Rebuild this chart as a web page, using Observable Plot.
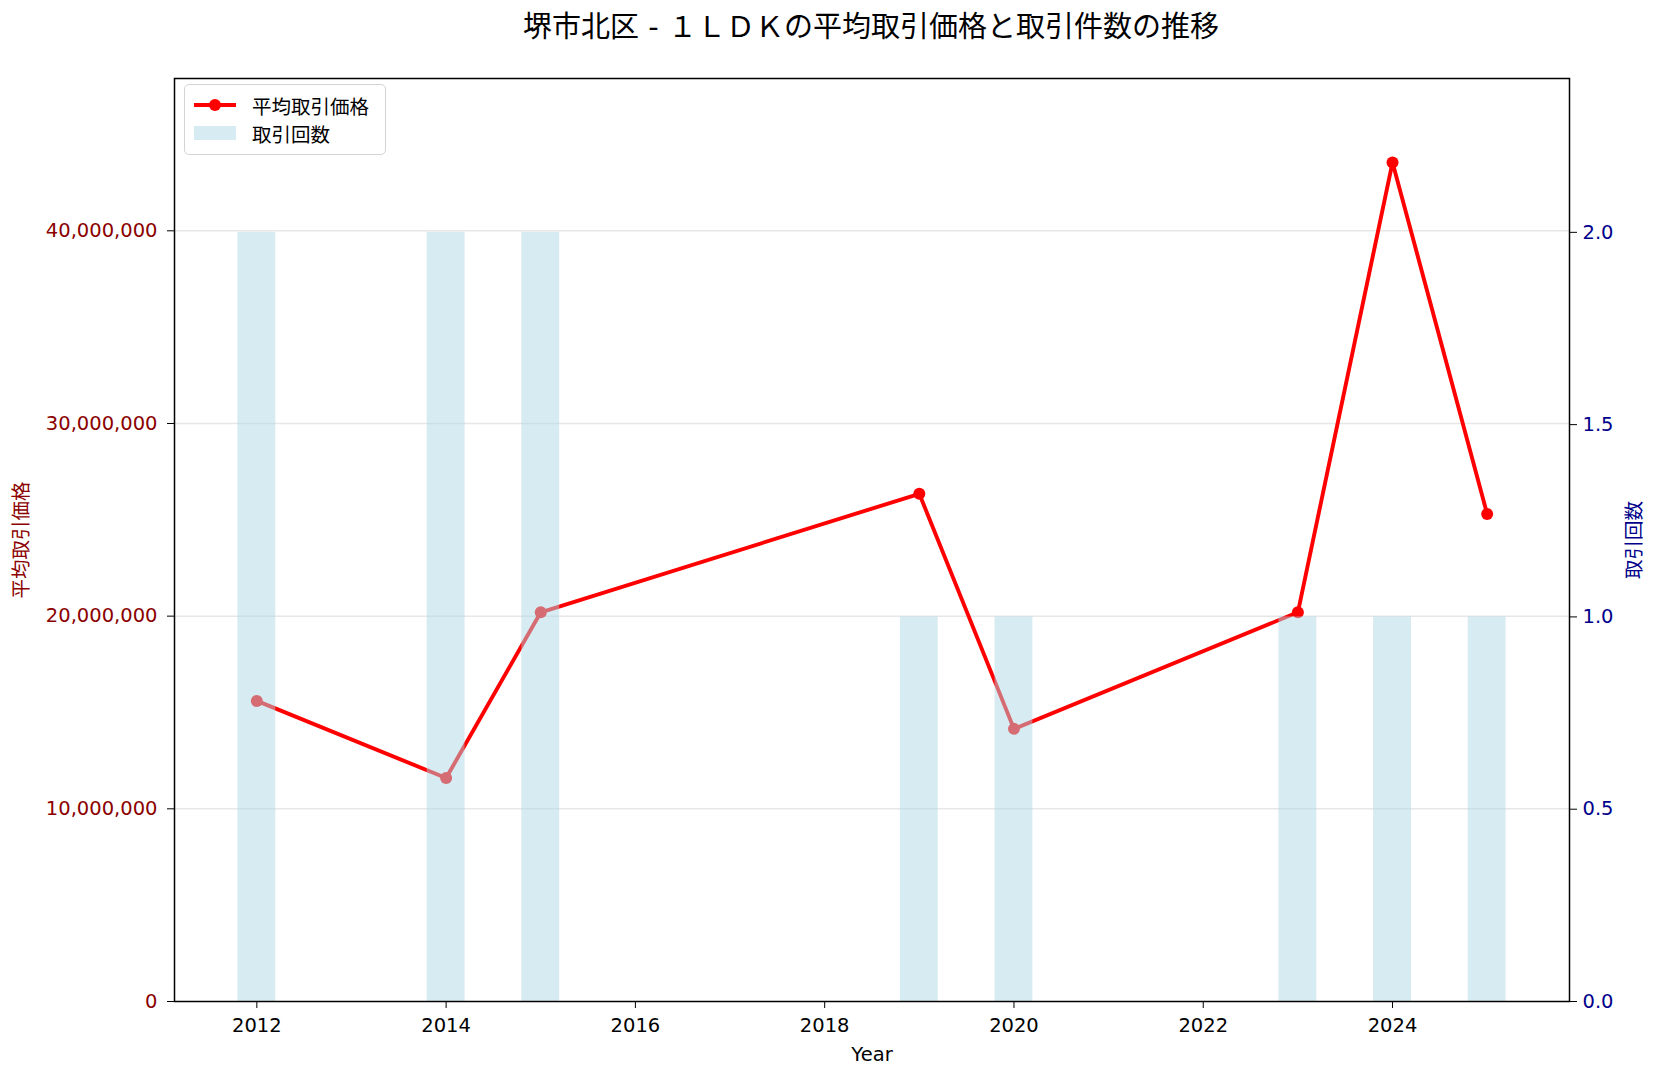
<!DOCTYPE html>
<html>
<head>
<meta charset="utf-8">
<script src="https://cdn.jsdelivr.net/npm/d3@7"></script>
<script src="https://cdn.jsdelivr.net/npm/@observablehq/plot@0.6"></script>
<style>
  html, body { margin: 0; padding: 0; background: #fff; }
  body { width: 1658px; height: 1080px; position: relative; overflow: hidden;
         font-family: "DejaVu Sans", "Noto Sans CJK JP", sans-serif; }
  #title { position: absolute; top: 10px; left: 871px; transform: translateX(-50%);
           font-size: 29px; line-height: 34px; white-space: nowrap; color: #000; }
  #chart { position: absolute; top: 60px; left: 0; }
  #legend { position: absolute; left: 184px; top: 84px; width: 202px; height: 71px;
            border: 1px solid #d4d4d4; border-radius: 5px; background: rgba(255,255,255,0.8);
            font-size: 19.5px; color: #000; box-sizing: border-box; }
  .item { position: absolute; left: 9px; height: 24px; display: flex; align-items: center; }
  .swatch { width: 42px; height: 24px; position: relative; margin-right: 16px; }
  .ln { position: absolute; left: 0; right: 0; top: 10px; height: 4px; background: red; }
  .dt { position: absolute; left: 15px; top: 6px; width: 12px; height: 12px; border-radius: 50%; background: red; }
  .patch { position: absolute; left: 0; right: 0; top: 5px; height: 14px; background: #add8e6; opacity: 0.5; }
</style>
</head>
<body>
<div id="title">堺市北区 - １ＬＤＫの平均取引価格と取引件数の推移</div>
<div id="chart"></div>
<div id="legend">
  <div class="item" style="top:8px"><div class="swatch"><div class="ln"></div><div class="dt"></div></div><span>平均取引価格</span></div>
  <div class="item" style="top:36px"><div class="swatch"><div class="patch"></div></div><span>取引回数</span></div>
</div>
<script>
// ---- data ----
const years  = [2012, 2014, 2015, 2019, 2020, 2023, 2024, 2025];
const prices = [15600000, 11600000, 20200000, 26350000, 14150000, 20200000, 43550000, 25300000];
const counts = [2, 2, 2, 1, 1, 1, 1, 1];
const xTicks = [2012, 2014, 2016, 2018, 2020, 2022, 2024];
const priceTicks = [0, 10000000, 20000000, 30000000, 40000000];
const countTicks = [0, 0.5, 1.0, 1.5, 2.0];
const priceLabel = "平均取引価格";
const countLabel = "取引回数";
const xLabel = "Year";

const data = years.map((y, i) => ({year: y, price: prices[i], count: counts[i]}));

const yTop = d3.max(prices) * 1.1;
const countTop = d3.max(counts) * 1.2;
const unit = yTop / countTop; // maps counts onto the price scale
const barHalf = 0.2;
const xMin = d3.min(years) - barHalf, xMax = d3.max(years) + barHalf;
const pad = (xMax - xMin) * 0.05;

const font = `"DejaVu Sans", "Noto Sans CJK JP", sans-serif`;

const chart = Plot.plot({
  width: 1658,
  height: 1020,
  marginTop: 18,
  marginBottom: 79,
  marginLeft: 174,
  marginRight: 89,
  style: {fontFamily: font, fontSize: "19.5px", background: "white", color: "black"},
  x: {domain: [xMin - pad, xMax + pad]},
  y: {domain: [0, yTop]},
  marks: [
    Plot.gridY(priceTicks.filter(d => d > 0), {stroke: "#b0b0b0", strokeOpacity: 0.3, strokeWidth: 1.5}),
    Plot.line(data, {x: "year", y: "price", stroke: "red", strokeWidth: 3.9}),
    Plot.dot(data, {x: "year", y: "price", fill: "red", r: 6}),
    Plot.rect(data, {x1: d => d.year - barHalf, x2: d => d.year + barHalf, y1: 0, y2: d => d.count * unit,
                     fill: "#add8e6", fillOpacity: 0.5}),
    Plot.frame({stroke: "black", strokeWidth: 1.5}),
    // x axis
    Plot.axisX(xTicks, {tickSize: 7, tickPadding: 10, tickFormat: d => String(d), stroke: "black", fill: "black",
                        label: xLabel, labelAnchor: "center", labelArrow: "none", labelOffset: 59}),
    // left axis ticks & labels
    Plot.axisY(priceTicks, {anchor: "left", tickSize: 7, tickFormat: () => "", stroke: "black", label: null}),
    Plot.axisY(priceTicks, {anchor: "left", tickSize: 0, tickPadding: 17, tickFormat: d3.format(","),
                            fill: "#8b0000", label: priceLabel, labelAnchor: "center", labelArrow: "none", labelOffset: 160}),
    // right axis
    Plot.axisY(countTicks.map(c => c * unit), {anchor: "right", tickSize: 7, tickFormat: () => "", stroke: "black", label: null}),
    Plot.axisY(countTicks.map(c => c * unit), {anchor: "right", tickSize: 0, tickPadding: 13,
                            tickFormat: d => (d / unit).toFixed(1), fill: "#00008b",
                            label: countLabel, labelAnchor: "center", labelArrow: "none", labelOffset: 71})
  ]
});
document.getElementById("chart").appendChild(chart);
</script>
</body>
</html>
